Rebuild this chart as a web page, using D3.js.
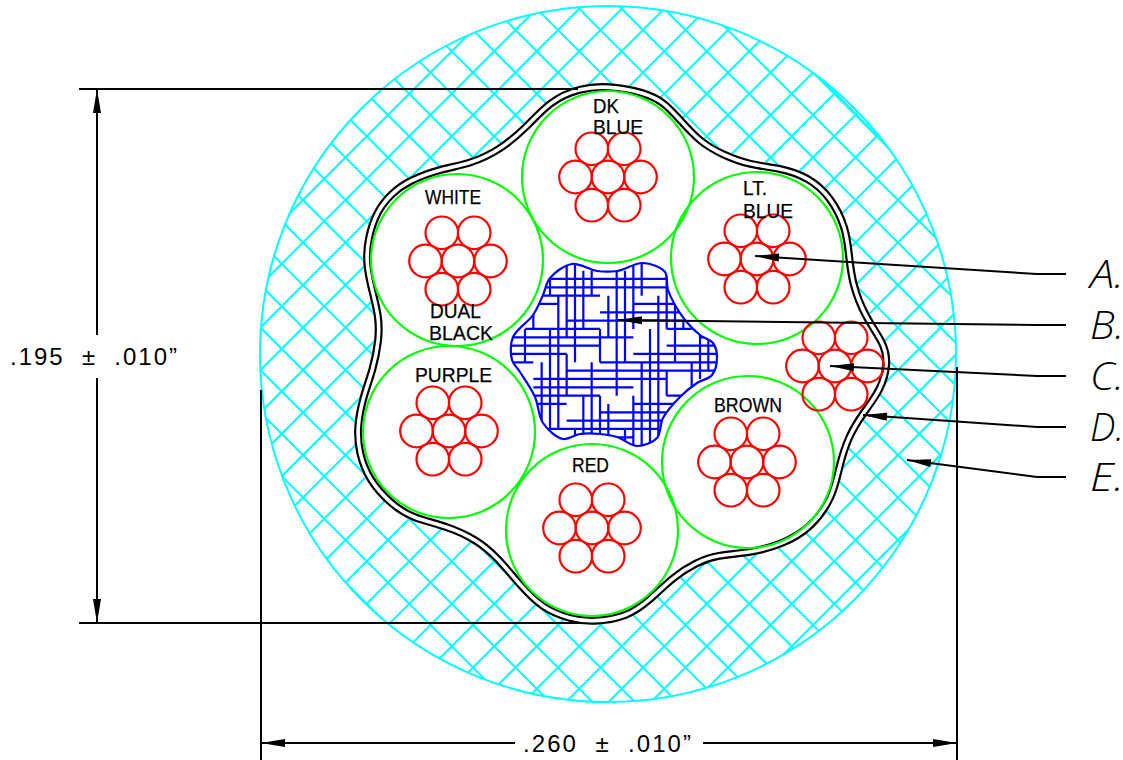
<!DOCTYPE html>
<html>
<head>
<meta charset="utf-8">
<title>Cable cross section</title>
<script src="https://cdn.jsdelivr.net/npm/d3@7"></script>
<style>
  html, body { margin: 0; padding: 0; background: #fff; }
  svg { display: block; }
  text { font-family: "Liberation Sans", sans-serif; fill: #000; }
  .call { font-family: "Open Sans", sans-serif; font-style: italic; font-weight: 300; }
</style>
</head>
<body>
<svg id="svg" width="1123" height="760"></svg>
<script>
// all geometry is in drawing units, measured from the cable centre
const cableRadius = 348;
const conductors = [
  { name: 'DK BLUE', cx: 0, cy: -177 },
  { name: 'LT BLUE', cx: 149, cy: -96 },
  { name: 'WHITE', cx: -151, cy: -94 },
  { name: 'PURPLE', cx: -159, cy: 78 },
  { name: 'RED', cx: -16, cy: 176 },
  { name: 'BROWN', cx: 140, cy: 108 }
];
const conductorRadius = 86;
const bundleCentres = [[0, -177], [149, -95], [-150, -93], [-159, 77], [-16, 174], [139, 108], [227, 12]];
const strandOffsets = [[0, 0], [-32.5, 0], [32.5, 0], [-16.2, -28.2], [16.2, -28.2], [-16.2, 28.2], [16.2, 28.2]];
const strandRadius = 16.3;

const jacketPoints = [
  [0, -268], [35, -262], [56, -252], [72, -234], [92, -212], [115, -199], [142, -189], [172, -186],
  [200, -177], [223, -157], [238, -126], [241, -99], [244, -71], [257, -37], [276, -11], [280, 9],
  [273, 36], [255, 59], [240, 83], [231, 113], [225, 143], [203, 174], [175, 190], [142, 199],
  [109, 201], [89, 208], [65, 223], [42, 246], [19, 263], [-15, 268], [-38, 265], [-66, 254],
  [-88, 231], [-111, 203], [-131, 186], [-161, 172], [-196, 164], [-217, 150], [-239, 126], [-249, 99],
  [-251, 73], [-245, 43], [-235, 16], [-229, -14], [-229, -37], [-236, -64], [-242, -91], [-240, -116],
  [-231, -143], [-217, -160], [-200, -173], [-168, -185], [-138, -190], [-108, -204], [-81, -227], [-58, -253], [-28, -266]
];
const braidSeam = [[215, -274], [270, -217]];

const fillerPoints = [
  [-36, -90], [-11, -83], [9, -83], [35, -91], [57, -82], [60, -64], [77, -34], [92, -19],
  [105, -11], [109, 3], [104, 21], [89, 29], [72, 43], [55, 64], [49, 84], [29, 92],
  [9, 83], [-8, 80], [-28, 80], [-45, 85], [-65, 69], [-73, 43], [-88, 18], [-96, 6],
  [-95, -17], [-75, -39], [-65, -59], [-58, -76]
];
// filler weave: [row, firstCol, lastCol] and [col, firstRow, lastRow]
const weaveRows = [
  [5, 5, 21], [6, 5, 21], [7, 4, 12], [8, 4, 7], [8, 16, 21], [9, 12, 22], [10, 8, 23], [11, 3, 12],
  [11, 20, 23], [12, 1, 16], [12, 24, 25], [13, 1, 12], [13, 20, 27], [14, 1, 8], [14, 16, 27], [15, 1, 4],
  [15, 12, 27], [16, 8, 26], [17, 4, 20], [18, 4, 16], [19, 4, 12], [19, 20, 22], [20, 4, 8], [20, 16, 21],
  [21, 12, 20], [22, 8, 20], [23, 5, 19], [24, 14, 16]
];
const weaveCols = [
  [3, 11, 15], [4, 9, 11], [5, 15, 23], [6, 5, 7], [6, 11, 23], [7, 7, 23], [8, 3, 12], [8, 14, 19],
  [9, 3, 15], [9, 23, 25], [10, 4, 11], [10, 19, 24], [11, 4, 7], [11, 15, 24], [12, 11, 15], [12, 19, 24],
  [13, 7, 12], [13, 20, 24], [14, 4, 19], [15, 4, 15], [15, 23, 25], [16, 3, 11], [16, 19, 25], [17, 3, 7],
  [17, 15, 25], [18, 11, 25], [19, 7, 25], [20, 4, 11], [20, 16, 19], [21, 8, 15], [22, 10, 11], [23, 15, 18],
  [24, 11, 17], [25, 12, 16]
];
const hatchPitch = 42.5;
const hatchPhase = [8.5, 19];

const wireLabels = [
  { text: 'DK', x: -15, y: -241, w: 26 },
  { text: 'BLUE', x: -15, y: -220, w: 50 },
  { text: 'LT.', x: 135, y: -159, w: 24 },
  { text: 'BLUE', x: 135, y: -136, w: 50 },
  { text: 'WHITE', x: -183, y: -150, w: 56 },
  { text: 'DUAL', x: -178, y: -36, w: 51 },
  { text: 'BLACK', x: -179, y: -14, w: 64 },
  { text: 'PURPLE', x: -193, y: 28, w: 77 },
  { text: 'RED', x: -36, y: 118, w: 37 },
  { text: 'BROWN', x: 106, y: 58, w: 68 }
];
const callouts = [
  { name: 'A.', tip: [147, -98], bend: [429, -80], y: -80 },
  { name: 'B.', tip: [10, -34], bend: [429, -29], y: -29 },
  { name: 'C.', tip: [222, 12], bend: [429, 22], y: 22 },
  { name: 'D.', tip: [255, 61], bend: [429, 73], y: 73 },
  { name: 'E.', tip: [299, 106], bend: [429, 123], y: 123 }
];

const x = d3.scaleLinear().domain([-cableRadius, cableRadius]).range([260, 956]);
const y = d3.scaleLinear().domain([-cableRadius, cableRadius]).range([6, 702]);
const r = d3.scaleLinear().domain([0, cableRadius]).range([0, 348]);
const weaveX = d3.scaleLinear().domain([0, 27]).range([x(-108), x(117)]);
const weaveY = d3.scaleLinear().domain([0, 27]).range([y(-116.7), y(108.3)]);

const svg = d3.select('#svg');
const defs = svg.append('defs');

defs.append('clipPath').attr('id', 'cableClip')
  .append('circle')
  .attr('cx', x(0)).attr('cy', y(0)).attr('r', r(cableRadius));

const closedLine = d3.line()
  .x(d => x(d[0]))
  .y(d => y(d[1]))
  .curve(d3.curveCatmullRomClosed.alpha(0.5));
const jacketLine = d3.line()
  .x(d => x(d[0]))
  .y(d => y(d[1]))
  .curve(d3.curveBasisClosed);

defs.append('clipPath').attr('id', 'fillerClip')
  .append('path')
  .attr('d', closedLine(fillerPoints));

// outer braid
let braid = svg.append('g')
  .attr('clip-path', 'url(#cableClip)')
  .attr('stroke', '#00ffff')
  .attr('stroke-width', 2);

d3.range(-12, 13).forEach(k => {
  let plus = hatchPhase[0] + k * hatchPitch;
  let minus = hatchPhase[1] + k * hatchPitch;
  braid.append('line')
    .attr('x1', x(-400)).attr('y1', y(plus + 400))
    .attr('x2', x(400)).attr('y2', y(plus - 400));
  braid.append('line')
    .attr('x1', x(-400)).attr('y1', y(-400 - minus))
    .attr('x2', x(400)).attr('y2', y(400 - minus));
});

svg.append('circle')
  .attr('cx', x(0)).attr('cy', y(0)).attr('r', r(cableRadius))
  .attr('fill', 'none')
  .attr('stroke', '#00ffff')
  .attr('stroke-width', 2);
svg.append('path')
  .attr('d', d3.line().x(d => x(d[0])).y(d => y(d[1]))(braidSeam))
  .attr('fill', 'none')
  .attr('stroke', '#00ffff')
  .attr('stroke-width', 2);

// shield, drawn wide in black then hollowed out in white
svg.append('path')
  .attr('d', jacketLine(jacketPoints))
  .attr('fill', '#fff')
  .attr('stroke', '#000')
  .attr('stroke-width', 8);
svg.append('path')
  .attr('d', jacketLine(jacketPoints))
  .attr('fill', 'none')
  .attr('stroke', '#fff')
  .attr('stroke-width', 3.6);

// insulation
svg.append('g').selectAll('circle')
  .data(conductors)
  .enter()
  .append('circle')
  .attr('cx', d => x(d.cx))
  .attr('cy', d => y(d.cy))
  .attr('r', r(conductorRadius))
  .attr('fill', 'none')
  .attr('stroke', '#00ff00')
  .attr('stroke-width', 2.2);

// strands
let strands = svg.append('g')
  .attr('fill', 'none')
  .attr('stroke', '#ff0000')
  .attr('stroke-width', 2.2);
bundleCentres.forEach(c => {
  strands.selectAll(null)
    .data(strandOffsets)
    .enter()
    .append('circle')
    .attr('cx', d => x(c[0] + d[0]))
    .attr('cy', d => y(c[1] + d[1]))
    .attr('r', r(strandRadius));
});

// filler
let filler = svg.append('g')
  .attr('clip-path', 'url(#fillerClip)')
  .attr('stroke', '#0000ff')
  .attr('stroke-width', 2.2);
filler.selectAll('.row')
  .data(weaveRows)
  .enter()
  .append('line')
  .attr('class', 'row')
  .attr('x1', d => weaveX(d[1])).attr('x2', d => weaveX(d[2]))
  .attr('y1', d => weaveY(d[0])).attr('y2', d => weaveY(d[0]));
filler.selectAll('.col')
  .data(weaveCols)
  .enter()
  .append('line')
  .attr('class', 'col')
  .attr('x1', d => weaveX(d[0])).attr('x2', d => weaveX(d[0]))
  .attr('y1', d => weaveY(d[1])).attr('y2', d => weaveY(d[2]));
svg.append('path')
  .attr('d', closedLine(fillerPoints))
  .attr('fill', 'none')
  .attr('stroke', '#0000ff')
  .attr('stroke-width', 2.2);

// wire names
svg.append('g').selectAll('text')
  .data(wireLabels)
  .enter()
  .append('text')
  .attr('x', d => x(d.x))
  .attr('y', d => y(d.y))
  .attr('font-size', 21)
  .attr('stroke', '#000')
  .attr('stroke-width', 0.25)
  .attr('textLength', d => d.w)
  .attr('lengthAdjust', 'spacingAndGlyphs')
  .text(d => d.text);

function drawLine(pts, width) {
  svg.append('path')
    .attr('d', d3.line().x(d => x(d[0])).y(d => y(d[1]))(pts))
    .attr('fill', 'none')
    .attr('stroke', '#000')
    .attr('stroke-width', width || 2);
}

function drawArrow(tip, from, len) {
  let a = Math.atan2(from[1] - tip[1], from[0] - tip[0]);
  let ux = Math.cos(a), uy = Math.sin(a);
  let bx = tip[0] + ux * len, by = tip[1] + uy * len;
  let half = 4;
  let pts = [tip, [bx - uy * half, by + ux * half], [bx + uy * half, by - ux * half]];
  svg.append('path')
    .attr('d', d3.line().x(d => x(d[0])).y(d => y(d[1]))(pts) + 'Z')
    .attr('fill', '#000');
}

// callouts
callouts.forEach(c => {
  drawLine([c.tip, c.bend, [458, c.y]]);
  drawArrow(c.tip, c.bend, 24);
  svg.append('text')
    .attr('class', 'call')
    .attr('x', x(482))
    .attr('y', y(c.y + 14))
    .attr('font-size', 38)
    .attr('textLength', 34)
    .attr('lengthAdjust', 'spacingAndGlyphs')
    .text(c.name);
});

// height dimension
drawLine([[-529, -265], [-30, -265]]);
drawLine([[-529, 269], [-26, 269]]);
drawLine([[-511, -265], [-511, -19]]);
drawLine([[-511, 24], [-511, 269]]);
drawArrow([-511, -265], [-511, 0], 24);
drawArrow([-511, 269], [-511, 0], 24);

// width dimension
drawLine([[-347, 36], [-347, 406]]);
drawLine([[349, 13], [349, 406]]);
drawLine([[-347, 389], [-93, 389]]);
drawLine([[95, 389], [349, 389]]);
drawArrow([-347, 389], [0, 389], 24);
drawArrow([349, 389], [0, 389], 24);

svg.append('text')
  .attr('x', 10).attr('y', y(11))
  .attr('font-size', 24)
  .attr('textLength', 167)
  .style('white-space', 'pre')
  .text('.195  ±  .010”');
svg.append('text')
  .attr('x', x(-85)).attr('y', y(398))
  .attr('font-size', 24)
  .attr('textLength', 168)
  .style('white-space', 'pre')
  .text('.260  ±  .010”');
</script>
</body>
</html>
